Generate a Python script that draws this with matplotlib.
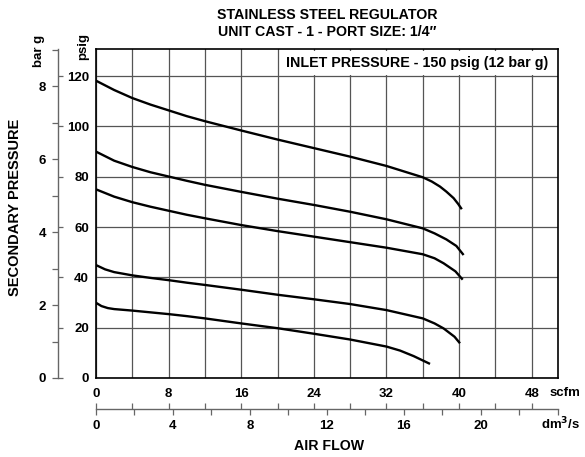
import numpy as np
import matplotlib
matplotlib.use("Agg")
import matplotlib.pyplot as plt
from matplotlib.ticker import MultipleLocator

plt.rcParams["font.family"] = ["Liberation Sans", "DejaVu Sans"]
plt.rcParams["font.weight"] = "bold"

# -- Curve data: air flow [scfm] vs secondary pressure [psig] --
flow_1 = [0, 2, 4, 6, 8, 10, 12, 16, 20, 24, 28, 32, 36, 37, 37.9, 38.6, 39.4, 39.9, 40.3]
psig_1 = [118.2, 114.5, 111.3, 108.7, 106.4, 104.1, 102.1, 98.4, 94.8, 91.4, 88.0, 84.3, 79.8,
          78.1, 76.1, 74.1, 71.5, 69.2, 67.1]

flow_2 = [0, 2, 4, 6, 8, 10, 12, 16, 20, 24, 28, 32, 36, 37.3, 38.6, 39.7, 40.5]
psig_2 = [90.0, 86.4, 83.9, 81.8, 80.1, 78.4, 76.8, 74.0, 71.3, 68.8, 66.1, 63.1, 59.5,
          57.5, 55.1, 52.5, 48.9]

flow_3 = [0, 2, 4, 6, 8, 10, 12, 16, 20, 24, 28, 32, 36, 37.3, 38.3, 39.6, 40.4]
psig_3 = [75.0, 72.1, 69.9, 68.1, 66.5, 64.9, 63.5, 60.8, 58.4, 56.2, 54.0, 51.8, 49.2,
          47.6, 45.6, 42.4, 39.1]

flow_4 = [0, 1, 2, 4, 6, 8, 10, 12, 16, 20, 24, 28, 32, 36, 37.3, 38.3, 39.5, 40.1]
psig_4 = [44.9, 43.2, 42.1, 40.8, 39.8, 38.9, 37.9, 37.0, 35.1, 33.1, 31.3, 29.4, 27.0, 23.7,
          21.7, 19.7, 16.4, 13.8]

flow_5 = [0, 0.6, 1.3, 2, 4, 6, 8, 10, 12, 16, 20, 24, 28, 32, 33.5, 35.0, 36.8]
psig_5 = [29.9, 28.6, 27.8, 27.4, 26.8, 26.1, 25.4, 24.6, 23.7, 21.7, 19.8, 17.6, 15.3, 12.5,
          10.9, 8.7, 5.6]

curves = [(flow_1, psig_1), (flow_2, psig_2), (flow_3, psig_3),
          (flow_4, psig_4), (flow_5, psig_5)]

PSI_PER_BAR = 14.5038
SCFM_PER_DM3S = 2.11888

GRID = "#555555"
AXC = "#666666"
FS = 9.5
FS_T = 10.2

fig = plt.figure(figsize=(5.85, 4.57), dpi=100)
ax = fig.add_axes([96 / 585, 1 - 378 / 457, 462 / 585, 329 / 457])

for fx, py in curves:
    ax.plot(fx, py, color="black", linewidth=1.7, solid_capstyle="butt",
            solid_joinstyle="round", zorder=3)

ax.set_xlim(0, 50.9)
ax.set_ylim(0, 130.8)

ax.xaxis.set_minor_locator(MultipleLocator(4))
ax.set_xticks([0, 8, 16, 24, 32, 40, 48])
ax.set_yticks([0, 20, 40, 60, 80, 100, 120])
ax.grid(True, which="both", axis="x", color=GRID, linewidth=0.9)
ax.grid(True, which="major", axis="y", color=GRID, linewidth=0.9)
ax.tick_params(axis="both", which="both", length=0, labelsize=FS)
ax.tick_params(axis="x", pad=7)
ax.tick_params(axis="y", pad=5)
for s in ax.spines.values():
    s.set_linewidth(1.2)

# Inlet pressure label (white box hides grid in top row)
ax.text(0.979, 125.2, "INLET PRESSURE - 150 psig (12 bar g)", transform=ax.get_yaxis_transform(),
        ha="right", va="center", fontsize=10.3, fontweight="bold", zorder=4,
        bbox=dict(facecolor="white", edgecolor="none", pad=3.5))

# -- bar g axis (left of psig labels) --
loc_bar = (58 - 96) / 462
bar_ax = ax.secondary_yaxis(loc_bar, functions=(lambda p: p / PSI_PER_BAR, lambda b: b * PSI_PER_BAR))
bar_ax.set_yticks([0, 2, 4, 6, 8])
bar_ax.yaxis.set_minor_locator(MultipleLocator(1))
bar_ax.tick_params(which="both", direction="out", length=4.5, width=0.9, color=AXC, labelsize=FS, pad=4)
bar_ax.spines["left"].set_color(AXC)
bar_ax.spines["left"].set_linewidth(1.0)

# psig ticks on the right side of the bar spine
psig_ax = ax.secondary_yaxis(loc_bar)
psig_ax.set_alignment("right")
psig_ax.set_yticks([0, 20, 40, 60, 80, 100, 120])
psig_ax.tick_params(direction="out", length=3.5, width=0.9, color=AXC, labelright=False, labelleft=False)
psig_ax.spines["right"].set_visible(False)

# -- dm3/s axis under scfm labels --
loc_dm = (378 - 409) / 329
dm_ax = ax.secondary_xaxis(loc_dm, functions=(lambda s: s / SCFM_PER_DM3S, lambda d: d * SCFM_PER_DM3S))
dm_ax.set_xticks([0, 4, 8, 12, 16, 20])
dm_ax.xaxis.set_minor_locator(MultipleLocator(2))
dm_ax.tick_params(which="both", direction="out", length=4, width=0.9, color=AXC, labelsize=FS, pad=4)
dm_ax.spines["bottom"].set_color(AXC)
dm_ax.spines["bottom"].set_linewidth(1.0)

scfm_ax = ax.secondary_xaxis(loc_dm)
scfm_ax.set_alignment("top")
scfm_ax.set_xticks(np.arange(0, 49, 4))
scfm_ax.tick_params(direction="out", length=4, width=0.9, color=AXC, labeltop=False, labelbottom=False)
scfm_ax.spines["top"].set_visible(False)

# -- Titles and labels --
fig.text(327 / 585, 1 - 15 / 457, "STAINLESS STEEL REGULATOR", ha="center", va="center",
         fontsize=FS_T, fontweight="bold")
fig.text(327 / 585, 1 - 32 / 457, "UNIT CAST - 1 - PORT SIZE: 1/4\u2033", ha="center", va="center",
         fontsize=FS_T, fontweight="bold")
fig.text(15 / 585, 1 - 207 / 457, "SECONDARY PRESSURE", rotation=90, ha="center", va="center",
         fontsize=10.5, fontweight="bold")
fig.text(39 / 585, 1 - 51 / 457, "bar g", rotation=90, ha="center", va="center",
         fontsize=FS, fontweight="bold")
fig.text(83 / 585, 1 - 47 / 457, "psig", rotation=90, ha="center", va="center",
         fontsize=FS, fontweight="bold")
fig.text(550 / 585, 1 - 393 / 457, "scfm", ha="left", va="center", fontsize=FS, fontweight="bold")
fig.text(580 / 585, 1 - 424 / 457, "dm$^\\mathbf{3}$/s", ha="right", va="center", fontsize=FS,
         fontweight="bold")
fig.text(329 / 585, 1 - 446 / 457, "AIR FLOW", ha="center", va="center", fontsize=FS_T,
         fontweight="bold")

fig.savefig("out.png", dpi=100)
